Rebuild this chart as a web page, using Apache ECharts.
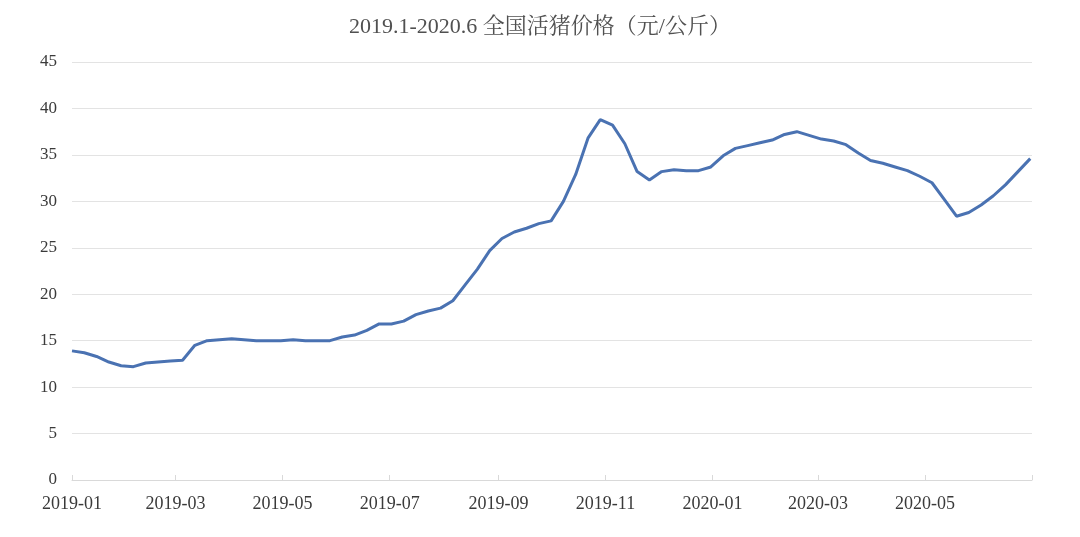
<!DOCTYPE html>
<html>
<head>
<meta charset="utf-8">
<script src="https://cdn.jsdelivr.net/npm/echarts@6/dist/echarts.min.js"></script>
<style>
html,body{margin:0;padding:0;background:#fff;}
#chart{width:1080px;height:537px;}
</style>
</head>
<body>
<div id="chart"></div>
<script>
const titleText = '2019.1-2020.6 全国活猪价格（元/公斤）';
const dates = [
 '2019-01-01','2019-01-08','2019-01-15','2019-01-22','2019-01-29',
 '2019-02-05','2019-02-12','2019-02-19','2019-02-26',
 '2019-03-05','2019-03-12','2019-03-19','2019-03-26',
 '2019-04-02','2019-04-09','2019-04-16','2019-04-23','2019-04-30',
 '2019-05-07','2019-05-14','2019-05-21','2019-05-28',
 '2019-06-04','2019-06-11','2019-06-18','2019-06-25',
 '2019-07-02','2019-07-09','2019-07-16','2019-07-23','2019-07-30',
 '2019-08-06','2019-08-13','2019-08-20','2019-08-27',
 '2019-09-03','2019-09-10','2019-09-17','2019-09-24',
 '2019-10-01','2019-10-08','2019-10-15','2019-10-22','2019-10-29',
 '2019-11-05','2019-11-12','2019-11-19','2019-11-26',
 '2019-12-03','2019-12-10','2019-12-17','2019-12-24','2019-12-31',
 '2020-01-07','2020-01-14','2020-01-21','2020-01-28',
 '2020-02-04','2020-02-11','2020-02-18','2020-02-25',
 '2020-03-03','2020-03-10','2020-03-17','2020-03-24','2020-03-31',
 '2020-04-07','2020-04-14','2020-04-21','2020-04-28',
 '2020-05-05','2020-05-12','2020-05-19','2020-05-26',
 '2020-06-02','2020-06-09','2020-06-16','2020-06-23','2020-06-30'
];
const prices = [
 13.9,13.7,13.3,12.7,12.3,
 12.2,12.6,12.7,12.8,
 12.9,14.5,15.0,15.1,
 15.2,15.1,15.0,15.0,15.0,
 15.1,15.0,15.0,15.0,
 15.4,15.6,16.1,16.8,
 16.8,17.1,17.8,18.2,18.5,
 19.3,21.0,22.7,24.7,
 26.0,26.7,27.1,27.6,
 27.9,30.0,32.9,36.8,38.8,
 38.2,36.2,33.2,32.3,
 33.2,33.4,33.3,33.3,33.7,
 34.9,35.7,36.0,36.3,
 36.6,37.2,37.5,37.1,
 36.7,36.5,36.1,35.2,34.4,
 34.1,33.7,33.3,32.7,
 32.0,30.2,28.4,28.8,
 29.6,30.6,31.8,33.2,34.6
];
const xTickLabels = ['2019-01','2019-03','2019-05','2019-07','2019-09','2019-11','2020-01','2020-03','2020-05'];
const xTickMarks = ['2019-01','2019-03','2019-05','2019-07','2019-09','2019-11','2020-01','2020-03','2020-05','2020-07'];
const yTicks = [0,5,10,15,20,25,30,35,40,45];

function ts(s){ const p = s.split('-').map(Number); return Date.UTC(p[0], p[1]-1, p[2] || 1); }
function fmt(v){ const d = new Date(v); const m = d.getUTCMonth()+1; return d.getUTCFullYear() + '-' + (m<10?'0':'') + m; }

const chart = echarts.init(document.getElementById('chart'), null, {renderer:'canvas'});
chart.setOption({
  animation:false,
  backgroundColor:'#fff',
  title:{
    text:titleText, left:'center', top:11,
    textStyle:{fontFamily:'"Liberation Serif","Noto Serif CJK SC","Noto Sans CJK SC",serif', fontSize:22, fontWeight:'normal', color:'#505050'}
  },
  grid:{left:72, right:48, top:62, bottom:57, containLabel:false},
  xAxis:{
    type:'value',
    min:ts('2019-01'), max:ts('2020-07'),
    axisLine:{show:true, lineStyle:{color:'#d9d9d9', width:1}},
    axisTick:{show:true, inside:true, length:5, lineStyle:{color:'#d9d9d9'}, customValues: xTickMarks.map(ts)},
    axisLabel:{
      customValues: xTickLabels.map(ts),
      formatter: function(v){ return fmt(v); },
      fontFamily:'"Liberation Serif",serif', fontSize:18, color:'#3a3a3a', margin:15
    },
    splitLine:{show:false}
  },
  yAxis:{
    type:'value', min:0, max:45, interval:5,
    axisLine:{show:false}, axisTick:{show:false},
    axisLabel:{fontFamily:'"Liberation Serif",serif', fontSize:17, color:'#3a3a3a', margin:15},
    splitLine:{show:true, lineStyle:{color:'#e3e3e3', width:1}}
  },
  series:[{
    type:'line',
    data: dates.map((d,i)=>[ts(d), prices[i]]),
    showSymbol:false,
    smooth:false,
    lineStyle:{color:'#4a72b2', width:3},
    itemStyle:{color:'#4a72b2'}
  }]
});
</script>
</body>
</html>
